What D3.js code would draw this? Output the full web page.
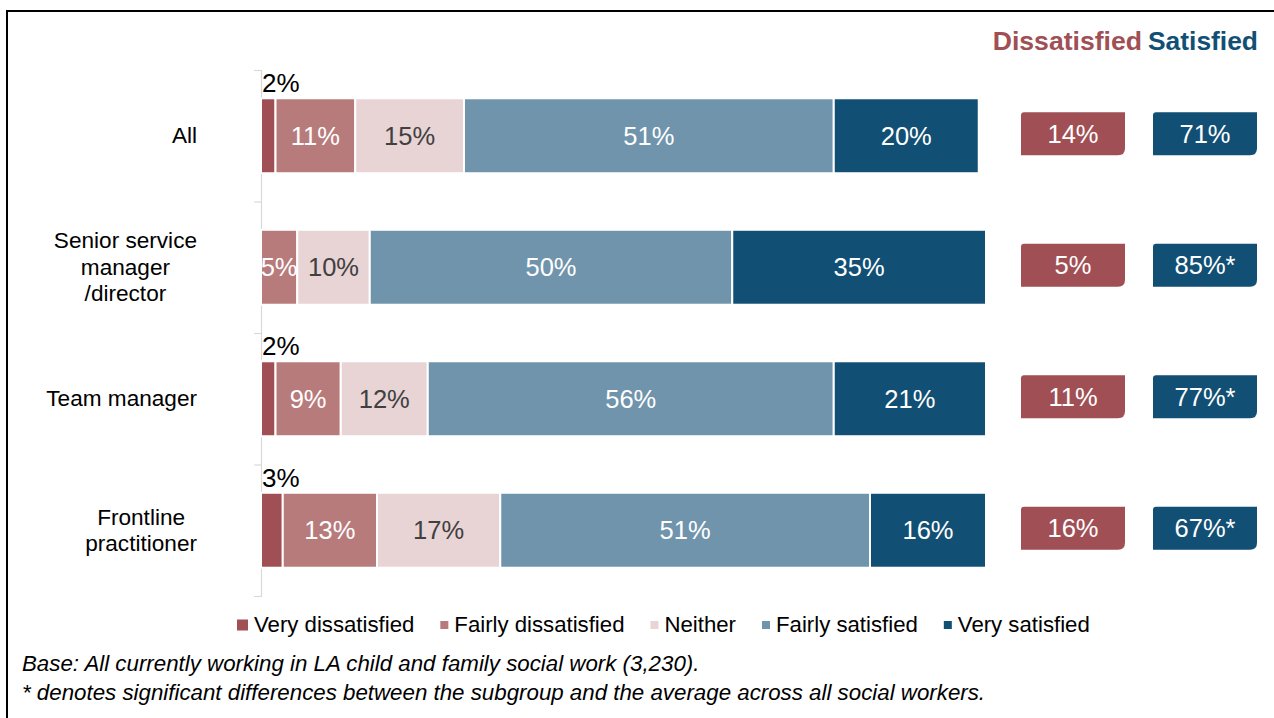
<!DOCTYPE html>
<html><head><meta charset="utf-8">
<script src="https://cdn.jsdelivr.net/npm/d3@7"></script>
<style>
html,body{margin:0;padding:0;background:#fff;}
svg{display:block;font-family:"Liberation Sans",Arial,sans-serif;}
</style></head>
<body>
<svg id="chart" width="1274" height="718"></svg>
<script>
const categories = ["All", "Senior service manager /director", "Team manager", "Frontline practitioner"];
const categoryLines = [["All"], ["Senior service", "manager", "/director"], ["Team manager"], ["Frontline", "practitioner"]];
const seriesNames = ["Very dissatisfied", "Fairly dissatisfied", "Neither", "Fairly satisfied", "Very satisfied"];
const veryDissatisfied = [2, 0, 2, 3];
const fairlyDissatisfied = [11, 5, 9, 13];
const neither = [15, 10, 12, 17];
const fairlySatisfied = [51, 50, 56, 51];
const verySatisfied = [20, 35, 21, 16];
const dissatisfiedTotal = ["14%", "5%", "11%", "16%"];
const satisfiedTotal = ["71%", "85%*", "77%*", "67%*"];
const footnotes = ["Base: All currently working in LA child and family social work (3,230).",
  "* denotes significant differences between the subgroup and the average across all social workers."];

const colors = ["#a05055", "#b87b7c", "#e8d3d5", "#7094ac", "#124f74"];
const labelColors = ["#000", "#fff", "#404040", "#fff", "#fff"];
const seriesValues = [veryDissatisfied, fairlyDissatisfied, neither, fairlySatisfied, verySatisfied];

const svg = d3.select("#chart");

// frame
svg.append("rect").attr("x", 7).attr("y", 11).attr("width", 1400).attr("height", 900)
  .attr("fill", "none").attr("stroke", "#000").attr("stroke-width", 2);

const x = d3.scaleLinear().domain([0, 100]).range([261, 986]);
const y = d3.scaleBand().domain(categories).range([70, 596]).paddingInner(0.43).paddingOuter(0.215);
const yEdge = d3.scaleLinear().domain([0, categories.length]).range([70, 596]);

// axis
const ax = svg.append("g").attr("transform", "translate(261,0)")
  .call(d3.axisLeft(yEdge).tickValues(d3.range(categories.length + 1)).tickSize(7).tickFormat(""));
ax.selectAll("path,line").attr("stroke", "#d9d9d9").attr("stroke-width", 1.2);

// category labels
categories.forEach((c, i) => {
  const lines = categoryLines[i];
  const cy = y(c) + y.bandwidth() / 2;
  const t = svg.append("text").attr("font-size", 22.6).attr("fill", "#000").attr("text-anchor", "middle");
  lines.forEach((l) => t.append("tspan").text(l));
  let maxW = 0;
  t.selectAll("tspan").each(function () { maxW = Math.max(maxW, this.getComputedTextLength()); });
  const cx = 197 - maxW / 2;
  const lh = 26.5;
  t.selectAll("tspan").attr("x", cx).attr("y", (d, k) => cy + 7.5 + (k - (lines.length - 1) / 2) * lh);
});

// stacked bars
const stackData = categories.map((c, i) => {
  const o = { cat: c };
  seriesNames.forEach((s, j) => o[s] = seriesValues[j][i]);
  return o;
});
const stack = d3.stack().keys(seriesNames)(stackData);

stack.forEach((layer, j) => {
  const g = svg.append("g");
  layer.forEach((d, i) => {
    const v = d[1] - d[0];
    if (v <= 0) return;
    const y0 = y(categories[i]);
    g.append("rect")
      .attr("x", x(d[0])).attr("y", y0)
      .attr("width", x(d[1]) - x(d[0])).attr("height", y.bandwidth())
      .attr("fill", colors[j]).attr("stroke", "#fff").attr("stroke-width", 2);
    if (v < 4) {
      g.append("text").attr("x", x(d[0]) + 1).attr("y", y0 - 6)
        .attr("font-size", 26).attr("fill", "#000").text(v + "%");
    } else {
      g.append("text").attr("x", (x(d[0]) + x(d[1])) / 2).attr("y", y0 + y.bandwidth() / 2 + 9)
        .attr("text-anchor", "middle").attr("font-size", 25.5).attr("fill", labelColors[j]).text(v + "%");
    }
  });
});

// header
svg.append("text").attr("x", 1142).attr("y", 50).attr("text-anchor", "end")
  .attr("font-size", 26.6).attr("font-weight", "bold").attr("fill", colors[0]).text("Dissatisfied");
svg.append("text").attr("x", 1258).attr("y", 50).attr("text-anchor", "end")
  .attr("font-size", 26.4).attr("font-weight", "bold").attr("fill", colors[4]).text("Satisfied");

// summary boxes
function boxPath(x0, y0, w, h) {
  const r1 = 3, r2 = 7;
  return `M${x0 + r1},${y0} H${x0 + w} V${y0 + h - r2} Q${x0 + w},${y0 + h} ${x0 + w - r2},${y0 + h} H${x0} V${y0 + r1} Q${x0},${y0} ${x0 + r1},${y0} Z`;
}
categories.forEach((c, i) => {
  const cy = y(c) + y.bandwidth() / 2 - 2;
  [[1021, dissatisfiedTotal[i], colors[0]], [1153, satisfiedTotal[i], colors[4]]].forEach(([bx, label, col]) => {
    svg.append("path").attr("d", boxPath(bx, cy - 21.5, 104, 43)).attr("fill", col);
    svg.append("text").attr("x", bx + 52).attr("y", cy + 9).attr("text-anchor", "middle")
      .attr("font-size", 25.5).attr("fill", "#fff").text(label);
  });
});

// legend
const legend = svg.append("g");
let lx = 237;
seriesNames.forEach((s, j) => {
  const sz = j === 0 ? 11 : 8;
  legend.append("rect").attr("x", lx + (j === 0 ? 0 : 3)).attr("y", 625 - sz / 2)
    .attr("width", sz).attr("height", sz).attr("fill", colors[j]);
  const t = legend.append("text").attr("x", lx + 17).attr("y", 632).attr("font-size", 22.2).attr("fill", "#000").text(s);
  lx = lx + 17 + t.node().getComputedTextLength() + 23;
});

// footnotes
footnotes.forEach((f, k) => {
  svg.append("text").attr("x", 22).attr("y", 671 + k * 28.5).attr("font-size", 22.3)
    .attr("font-style", "italic").attr("fill", "#000").text(f);
});
</script>
</body></html>
